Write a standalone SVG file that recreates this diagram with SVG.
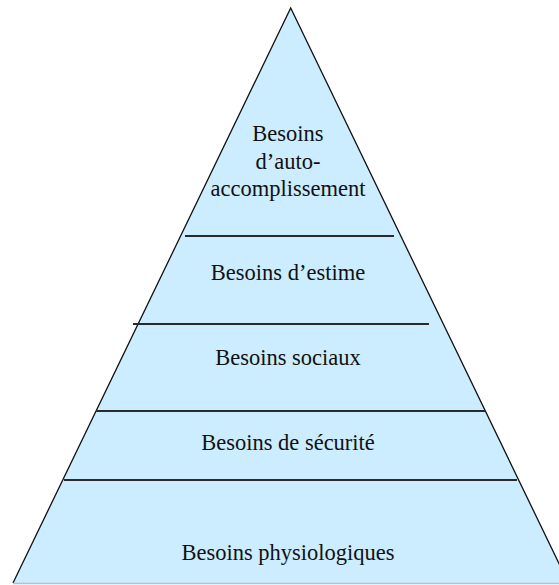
<svg xmlns="http://www.w3.org/2000/svg" width="559" height="585" viewBox="0 0 559 585">
<style>
.lbl{font-family:"Liberation Serif","Times New Roman",serif;font-size:22.5px;fill:#111;text-anchor:middle}
.div{stroke:#2a2a2a;stroke-width:2;fill:none}
</style>
<rect width="559" height="585" fill="#ffffff"/>
<g id="pyramid">
<polygon points="290.7,8 13,583 568.4,583" fill="#ccecff"/>
<polyline points="13,583 290.7,8 568.4,583" fill="none" stroke="#111" stroke-width="1.3"/>
<line x1="13" y1="583.5" x2="559" y2="583.5" stroke="#a9c4d6" stroke-width="1.5"/>
</g>
<g id="connectors">
<line class="div" x1="185" y1="236" x2="394" y2="236"/>
<line class="div" x1="133" y1="324" x2="429" y2="324"/>
<line class="div" x1="96" y1="411" x2="485" y2="411"/>
<line class="div" x1="64" y1="480" x2="517" y2="480"/>
</g>
<g id="auto-accomplissement">
<text class="lbl" x="288" y="141">Besoins</text>
<text class="lbl" x="288" y="169">d’auto-</text>
<text class="lbl" x="288" y="196">accomplissement</text>
</g>
<g id="estime"><text class="lbl" x="288" y="280">Besoins d’estime</text></g>
<g id="sociaux"><text class="lbl" x="288" y="365">Besoins sociaux</text></g>
<g id="securite"><text class="lbl" x="288" y="450">Besoins de sécurité</text></g>
<g id="physiologiques"><text class="lbl" x="288" y="560">Besoins physiologiques</text></g>
</svg>
